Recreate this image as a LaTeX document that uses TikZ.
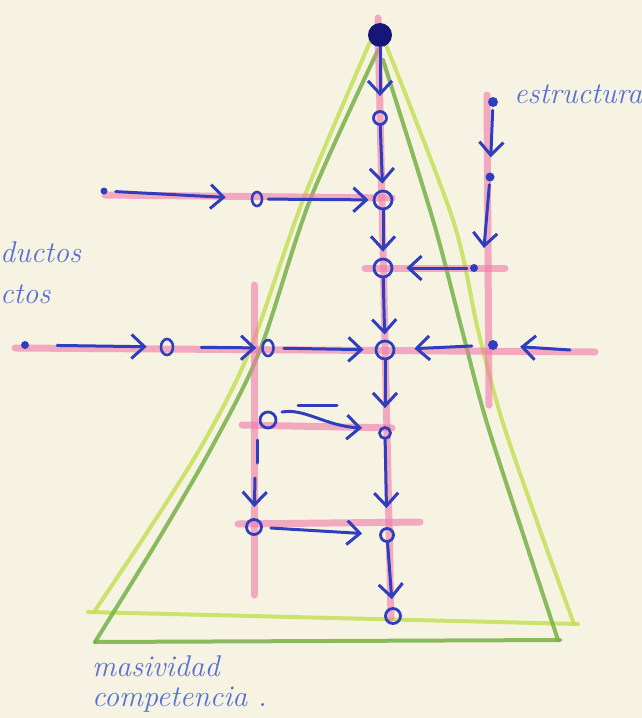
\documentclass[tikz,border=0pt]{standalone}
\usetikzlibrary{arrows.meta,shapes.geometric}
\definecolor{paper}{RGB}{247,243,226}
\definecolor{penblue}{RGB}{48,62,190}
\definecolor{inkblue}{RGB}{86,112,212}
\definecolor{navy}{RGB}{22,22,120}
\definecolor{pinkc}{RGB}{240,120,170}
\definecolor{lgreen}{RGB}{196,224,88}
\definecolor{dgreen}{RGB}{118,178,72}
\tikzset{
  pinkline/.style={draw=pinkc, line width=7pt, opacity=0.6, line cap=round},
  bline/.style={draw=penblue, line width=3pt, line cap=round},
  arr/.style={bline, -{Straight Barb[length=13pt,width=24pt,line width=3pt]}},
  bcirc/.style={circle, draw=penblue, line width=2.8pt, inner sep=0pt, minimum size=#1},
  bcirc/.default=14pt,
  boval/.style={ellipse, draw=penblue, line width=2.6pt, inner sep=0pt},
  bdot/.style={circle, fill=penblue, inner sep=0pt, minimum size=#1},
  bdot/.default=8pt,
  hand/.style={text=inkblue, font=\fontsize{30}{33}\selectfont\itshape, inner sep=0pt},
  tri/.style={line width=4pt, opacity=0.85, line cap=round, line join=round}
}
\begin{document}
\begin{tikzpicture}[x=1pt,y=-1pt]
\useasboundingbox (0,0) rectangle (642,718);
\clip (0,0) rectangle (642,718);
\fill[paper] (0,0) rectangle (642,718);

% triangles
\draw[tri, draw=lgreen] plot[smooth] coordinates {(370,42) (303,200) (250,350) (205,440) (150,528) (94,612)};
\draw[tri, draw=lgreen] (88,612) -- (578,624);
\draw[tri, draw=lgreen] plot[smooth] coordinates {(386,45) (453,220) (478,330) (502,420) (540,530) (574,624)};
\draw[tri, draw=dgreen] plot[smooth] coordinates {(378,50) (310,200) (260,350) (213,445) (158,540) (95,642)};
\draw[tri, draw=dgreen] (95,642) -- (560,640);
\draw[tri, draw=dgreen] plot[smooth] coordinates {(383,60) (433,220) (462,330) (486,420) (525,540) (558,640)};

% pink lines
\draw[pinkline] (378,18) -- (391,618);
\draw[pinkline] (487,95) -- (489,405);
\draw[pinkline] (254,285) -- (254,595);
\draw[pinkline] (105,195) -- (392,198);
\draw[pinkline] (365,268) -- (505,268);
\draw[pinkline] (15,348) -- (595,352);
\draw[pinkline] (242,425) -- (392,428);
\draw[pinkline] (238,524) -- (420,522);

% nodes on the main vertical
\node[circle, fill=navy, inner sep=0pt, minimum size=24pt] (top) at (380,35) {};
\node[bcirc=13pt] (c1) at (380,118) {};
\node[bcirc=18pt] (c2) at (383,200) {};
\node[bcirc=18pt] (c3) at (383,268) {};
\node[bcirc=18pt] (c4) at (385,350) {};
\node[bcirc=11pt] (c5) at (385,433) {};
\node[bcirc=13pt] (c6) at (387,535) {};
\node[bcirc=15pt] (c7) at (393,616) {};

% other nodes
\node[bdot=7pt] (h1d) at (104,191) {};
\node[boval, minimum width=10pt, minimum height=14pt] (h1c) at (257,199) {};
\node[bdot=8pt] (h3d) at (25,345) {};
\node[boval, minimum width=12pt, minimum height=16pt] (h3c1) at (167,347) {};
\node[boval, minimum width=11pt, minimum height=16pt] (h3c2) at (268,348) {};
\node[bdot=10pt] (r1) at (493,102) {};
\node[bdot=9pt] (r2) at (490,177) {};
\node[bdot=8pt] (r3) at (474,268) {};
\node[bdot=10pt] (r4) at (493,345) {};
\node[bcirc=16pt] (h4c) at (268,420) {};
\node[bcirc=15pt] (h5c) at (254,527) {};

\coordinate (r2t) at (484,248);
\coordinate (e) at (570,350);
\coordinate (h4s) at (282,412);
\coordinate (h4t) at (362,428);
\coordinate (dsh1) at (298,405);
\coordinate (dsh2) at (337,405);
\coordinate (lv1) at (257,440);
\coordinate (lv2) at (257,463);
\coordinate (lv3) at (255,478);

% main vertical arrows
\draw[arr, shorten >=14pt] (top) -- (c1);
\draw[arr, shorten >=6pt] (c1) -- (c2);
\draw[arr, shorten >=6pt] (c2) -- (c3);
\draw[arr, shorten >=5pt] (c3) -- (c4);
\draw[arr, shorten >=18pt] (c4) -- (c5);
\draw[arr, shorten >=19pt] (c5) -- (c6);
\draw[arr, shorten >=8pt] (c6) -- (c7);

% right vertical
\draw[arr, shorten <=3pt, shorten >=15pt] (r1) -- (r2);
\draw[arr, shorten <=3pt] (r2) -- (r2t);

% horizontals
\draw[arr, shorten <=8pt, shorten >=25pt] (h1d) -- (h1c);
\draw[arr, shorten <=5pt, shorten >=4pt] (h1c) -- (c2);
\draw[arr, shorten <=3pt, shorten >=13pt] (r3) -- (c3);
\draw[arr, shorten <=28pt, shorten >=13pt] (h3d) -- (h3c1);
\draw[arr, shorten <=27pt, shorten >=5pt] (h3c1) -- (h3c2);
\draw[arr, shorten <=9pt, shorten >=11pt] (h3c2) -- (c4);
\draw[arr, shorten <=16pt, shorten >=19pt] (r4) -- (c4);
\draw[arr, shorten >=22pt] (e) -- (r4);
\draw[arr] (h4s) .. controls (305,408) and (325,426) .. (h4t);
\draw[bline] (dsh1) -- (dsh2);
\draw[bline] (lv1) -- (lv2);
\draw[arr, shorten >=11pt] (lv3) -- (h5c);
\draw[arr, shorten <=8pt, shorten >=17pt] (h5c) -- (c6);

% texts
\node[hand, anchor=base west] (t1) at (514,103) {estructura};
\node[hand, anchor=base west] (t2) at (0,262) {ductos};
\node[hand, anchor=base west] (t3) at (0,303) {ctos};
\node[hand, anchor=base west] (t4) at (92,676) {masividad};
\node[hand, anchor=base west] (t5) at (92,706) {competencia .};
\end{tikzpicture}
\end{document}
